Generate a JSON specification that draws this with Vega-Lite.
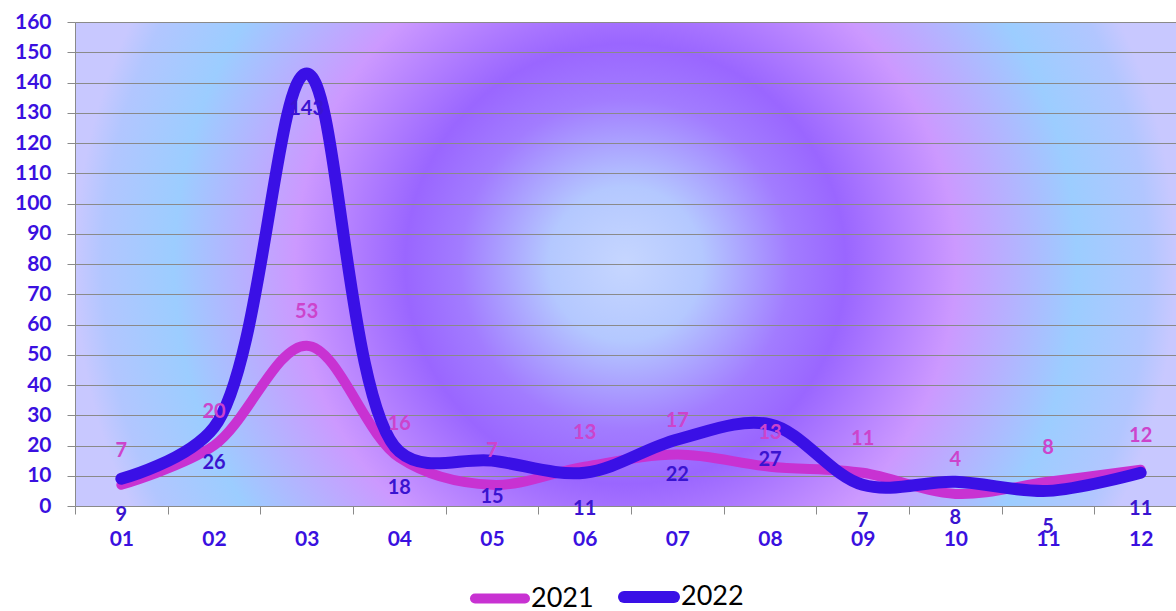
{
  "$schema": "https://vega.github.io/schema/vega-lite/v6.json",
  "width": 1101,
  "height": 484,
  "autosize": "none",
  "padding": {"left": 75, "top": 22, "right": 0, "bottom": 105},
  "background": "white",
  "view": {
    "stroke": null,
    "fill": {
      "gradient": "radial",
      "x1": 0.5, "y1": 0.5, "r1": 0,
      "x2": 0.5, "y2": 0.5, "r2": 0.5,
      "stops": [
        {"offset": 0, "color": "#c6d6ff"},
        {"offset": 0.14, "color": "#b4c8ff"},
        {"offset": 0.3, "color": "#a27cff"},
        {"offset": 0.4, "color": "#9a66ff"},
        {"offset": 0.6, "color": "#cc99ff"},
        {"offset": 0.82, "color": "#9ccdff"},
        {"offset": 0.95, "color": "#b2c6ff"},
        {"offset": 1, "color": "#c8c8ff"}
      ]
    }
  },
  "config": {
    "font": "Lato",
    "axis": {
      "labelFont": "Lato",
      "labelFontWeight": "bold",
      "labelFontSize": 21,
      "labelColor": "#3a10e0",
      "domainColor": "#8a8a8a",
      "tickColor": "#8a8a8a",
      "gridColor": "#8a8a8a",
      "gridOpacity": 1,
      "title": null
    }
  },
  "data": {
    "values": [
      {"month": "01", "series": "2021", "value": 7},
      {"month": "02", "series": "2021", "value": 20},
      {"month": "03", "series": "2021", "value": 53},
      {"month": "04", "series": "2021", "value": 16},
      {"month": "05", "series": "2021", "value": 7},
      {"month": "06", "series": "2021", "value": 13},
      {"month": "07", "series": "2021", "value": 17},
      {"month": "08", "series": "2021", "value": 13},
      {"month": "09", "series": "2021", "value": 11},
      {"month": "10", "series": "2021", "value": 4},
      {"month": "11", "series": "2021", "value": 8},
      {"month": "12", "series": "2021", "value": 12},
      {"month": "01", "series": "2022", "value": 9},
      {"month": "02", "series": "2022", "value": 26},
      {"month": "03", "series": "2022", "value": 143},
      {"month": "04", "series": "2022", "value": 18},
      {"month": "05", "series": "2022", "value": 15},
      {"month": "06", "series": "2022", "value": 11},
      {"month": "07", "series": "2022", "value": 22},
      {"month": "08", "series": "2022", "value": 27},
      {"month": "09", "series": "2022", "value": 7},
      {"month": "10", "series": "2022", "value": 8},
      {"month": "11", "series": "2022", "value": 5},
      {"month": "12", "series": "2022", "value": 11}
    ]
  },
  "encoding": {
    "x": {
      "field": "month",
      "type": "ordinal",
      "scale": {"range": [0, 1112], "paddingInner": 0, "paddingOuter": 0},
      "axis": {
        "labelAngle": 0,
        "tickBand": "extent",
        "tickSize": 8,
        "domain": false,
        "grid": false,
        "labelPadding": 14
      }
    },
    "y": {
      "field": "value",
      "type": "quantitative",
      "scale": {"domain": [0, 160], "nice": false, "zero": true},
      "axis": {
        "values": [0, 10, 20, 30, 40, 50, 60, 70, 80, 90, 100, 110, 120, 130, 140, 150, 160],
        "tickSize": 8,
        "labelPadding": 16,
        "domain": true,
        "grid": true
      }
    }
  },
  "layer": [
    {
      "mark": {"type": "line", "interpolate": "catmull-rom", "strokeCap": "round", "strokeJoin": "round"},
      "encoding": {
        "color": {
          "field": "series",
          "type": "nominal",
          "scale": {"domain": ["2021", "2022"], "range": ["#c832d2", "#3a10e6"]},
          "legend": {
            "title": null,
            "orient": "none",
            "direction": "horizontal",
            "legendX": 395,
            "legendY": 544,
            "symbolType": "stroke",
            "symbolSize": 2500,
            "symbolStrokeWidth": 10,
            "labelFont": "Lato",
            "labelFontSize": 27,
            "labelColor": "#000000",
            "labelOffset": 1,
            "columnPadding": 6,
            "symbolLimit": 0,
            "encode": {"symbols": {"update": {"strokeCap": {"value": "round"}}}}
          }
        },
        "strokeWidth": {
          "field": "series",
          "type": "nominal",
          "scale": {"domain": ["2021", "2022"], "range": [10, 12]},
          "legend": null
        }
      }
    },
    {
      "transform": [{"filter": "datum.series == '2021'"}],
      "mark": {"type": "text", "dy": -34, "fontSize": 20, "fontWeight": "bold", "font": "Lato", "color": "#cc44cc", "baseline": "middle"},
      "encoding": {"text": {"field": "value", "type": "quantitative"}}
    },
    {
      "transform": [{"filter": "datum.series == '2022'"}],
      "mark": {"type": "text", "dy": 36, "fontSize": 20, "fontWeight": "bold", "font": "Lato", "color": "#3a14d0", "baseline": "middle"},
      "encoding": {"text": {"field": "value", "type": "quantitative"}}
    }
  ]
}
